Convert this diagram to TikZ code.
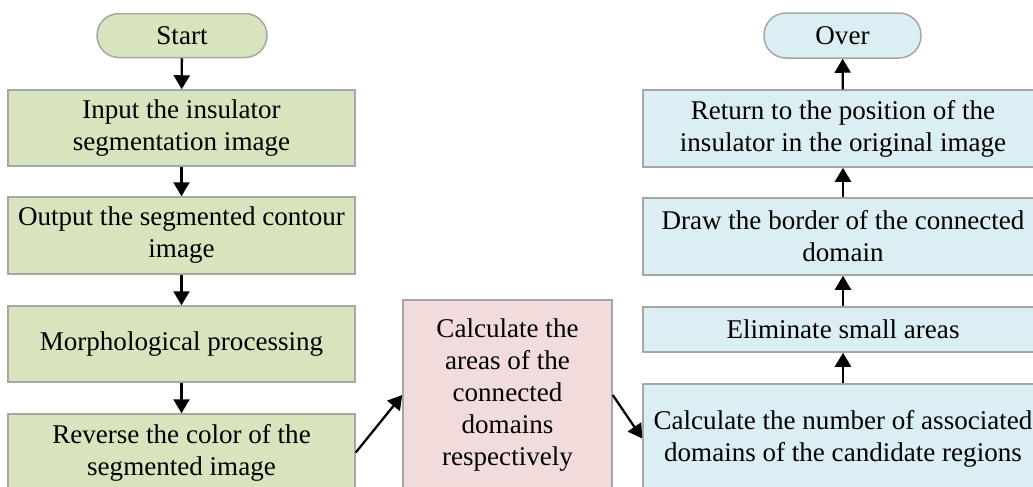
\documentclass[tikz,border=0pt]{standalone}
\usepackage{fontspec}
\setmainfont{Liberation Serif}
\usepackage{xcolor}
\usepackage{tikz}
\usetikzlibrary{arrows.meta, positioning}

\definecolor{boxgreen}{HTML}{D7E4BD}
\definecolor{boxred}{HTML}{F2DCDB}
\definecolor{boxblue}{HTML}{DAEEF3}
\definecolor{boxline}{HTML}{A6A6A6}

\begin{document}
\begin{tikzpicture}[font=\fontsize{15.4}{18.2}\selectfont,
  stepbox/.style={draw=boxline, line width=0.85pt, align=center, inner sep=0pt},
  pill/.style={stepbox, rounded corners=0.44cm, minimum width=3.2cm, minimum height=0.88cm},
  flow/.style={-{Triangle[length=0.28cm,width=0.32cm]}, line width=1.3pt}]
\useasboundingbox (0,0) rectangle (20.66,-9.72);

% left column
\node[pill, fill=boxgreen, minimum width=3.40cm] (start) at (3.64,-0.71) {Start};
\node[stepbox, fill=boxgreen, minimum width=6.94cm, minimum height=1.52cm] (input) at (3.63,-2.56) {Input the insulator\\segmentation image};
\node[stepbox, fill=boxgreen, minimum width=6.94cm, minimum height=1.54cm] (contour) at (3.63,-4.71) {Output the segmented contour\\image};
\node[stepbox, fill=boxgreen, minimum width=6.94cm, minimum height=1.52cm] (morph) at (3.63,-6.88) {Morphological processing};
\node[stepbox, fill=boxgreen, minimum width=6.94cm, minimum height=1.54cm] (reverse) at (3.63,-9.05) {Reverse the color of the\\segmented image};

% middle
\node[stepbox, fill=boxred, minimum width=4.18cm, minimum height=3.80cm] (areas) at (10.15,-7.90) {Calculate the\\areas of the\\connected\\domains\\respectively};

% right column
\node[pill, fill=boxblue, minimum width=3.14cm, minimum height=0.90cm] (over) at (16.85,-0.71) {Over};
\node[stepbox, fill=boxblue, minimum width=8.0cm, minimum height=1.54cm] (return) at (16.86,-2.57) {Return to the position of the\\insulator in the original image};
\node[stepbox, fill=boxblue, minimum width=8.0cm, minimum height=1.54cm] (border) at (16.86,-4.73) {Draw the border of the connected\\domain};
\node[stepbox, fill=boxblue, minimum width=8.0cm, minimum height=0.90cm] (elim) at (16.86,-6.59) {Eliminate small areas};
\node[stepbox, fill=boxblue, minimum width=8.0cm, minimum height=2.18cm] (count) at (16.86,-8.77) {Calculate the number of associated\\domains of the candidate regions};

\draw[flow] (start) -- (input);
\draw[flow] (input) -- (contour);
\draw[flow] (contour) -- (morph);
\draw[flow] (morph) -- (reverse);
\draw[flow] (reverse.east) -- (areas.west);
\draw[flow] (areas.east) -- (count.west);
\draw[flow] (count) -- (elim);
\draw[flow] (elim) -- (border);
\draw[flow] (border) -- (return);
\draw[flow] (return) -- (over);
\end{tikzpicture}
\end{document}
